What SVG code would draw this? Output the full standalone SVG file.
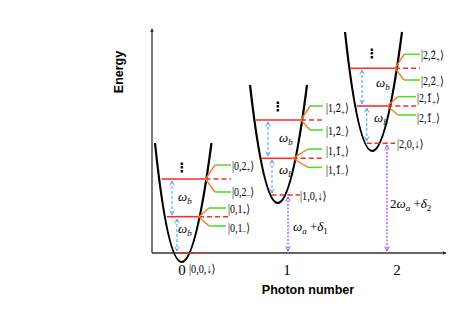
<svg xmlns="http://www.w3.org/2000/svg" width="458" height="324" viewBox="0 0 458 324">
<defs>
<style>
.well{fill:none;stroke:#000;stroke-width:2.2}
.lvl{stroke:#ff2a2a;stroke-width:1.6;fill:none}
.dash{stroke:#ff2a2a;stroke-width:1.6;stroke-dasharray:5,3;fill:none}
.split{stroke:#f47a2a;stroke-width:1.4;fill:none}
.grn{stroke:#55dd33;stroke-width:1.6;fill:none}
.blue{stroke:#4da6ff;stroke-width:1.1;stroke-dasharray:3,2;fill:none;marker-start:url(#ab);marker-end:url(#ab)}
.purp{stroke:#8a4dff;stroke-width:1.2;stroke-dasharray:2,1.5;fill:none;marker-start:url(#ap);marker-end:url(#ap)}
.axis{stroke:#333;stroke-width:1.3;fill:none}
.ket{font-family:"Liberation Serif","DejaVu Serif",serif;font-size:12.5px;fill:#000}
.td{font-family:"DejaVu Serif",serif;font-size:11px}
.om{font-family:"Liberation Serif","DejaVu Serif",serif;font-size:13px;font-style:italic;fill:#000}
.num{font-family:"Liberation Serif",serif;font-size:15px;fill:#000}
.lab{font-family:"Liberation Sans",Arial,sans-serif;font-size:12.5px;font-weight:bold;fill:#000}
.dots{font-family:"DejaVu Sans",sans-serif;font-size:13px;font-weight:bold;fill:#000}
</style>
<marker id="ab" viewBox="0 0 8 8" refX="7" refY="4" markerWidth="6" markerHeight="6" markerUnits="userSpaceOnUse" orient="auto-start-reverse"><path d="M1,1 L7,4 L1,7" fill="none" stroke="#4da6ff" stroke-width="1.3"/></marker>
<marker id="ap" viewBox="0 0 8 8" refX="7" refY="4" markerWidth="6" markerHeight="6" markerUnits="userSpaceOnUse" orient="auto-start-reverse"><path d="M1,1 L7,4 L1,7" fill="none" stroke="#8a4dff" stroke-width="1.3"/></marker>
<marker id="ax" viewBox="0 0 6 6" refX="5" refY="3" markerWidth="4" markerHeight="4" markerUnits="userSpaceOnUse" orient="auto"><path d="M0,0 L6,3 L0,6 Z" fill="#333"/></marker>
</defs>
<rect width="458" height="324" fill="#fff"/>

<g id="axes">
<line class="axis" x1="152" y1="253" x2="152" y2="29" marker-end="url(#ax)"/>
<line class="axis" x1="152" y1="253" x2="446" y2="253" marker-end="url(#ax)"/>
<text class="lab" transform="translate(123,72) rotate(-90)" text-anchor="middle">Energy</text>
<text class="lab" x="308" y="294" text-anchor="middle" font-size="13">Photon number</text>
<text class="num" x="182" y="275" text-anchor="middle">0</text>
<text class="num" x="287" y="275" text-anchor="middle">1</text>
<text class="num" x="397" y="275" text-anchor="middle">2</text>
</g>

<g id="well0">
<path class="well" d="M155,143 Q180,381 211.5,143"/>
<line class="lvl" x1="161.5" y1="179" x2="205.5" y2="179"/>
<line class="dash" x1="205.5" y1="179" x2="231" y2="179"/>
<polyline class="split" points="215,165 205.5,179 215,192"/>
<line class="grn" x1="215" y1="165" x2="231" y2="165"/>
<line class="grn" x1="215" y1="192" x2="231" y2="192"/>
<line class="lvl" x1="167" y1="216.7" x2="199" y2="216.7"/>
<line class="dash" x1="199" y1="216.7" x2="229" y2="216.7"/>
<polyline class="split" points="209,208 199,216.7 209,226"/>
<line class="grn" x1="209" y1="208" x2="226" y2="208"/>
<line class="grn" x1="209" y1="226" x2="226" y2="226"/>
<line class="dash" x1="178" y1="253" x2="203" y2="253"/>
<text class="dots" x="182" y="172" text-anchor="middle">⋮</text>
<text class="om" x="178" y="201">ω<tspan font-size="9" dy="3">b</tspan></text>
<text class="om" x="178" y="233">ω<tspan font-size="9" dy="3">b</tspan></text>
<text class="ket" transform="translate(232,169.5) scale(0.8,1)">|0,2<tspan font-size="8.5" dy="2.5">+</tspan><tspan dy="-2.5">⟩</tspan></text>
<text class="ket" transform="translate(232,195.5) scale(0.8,1)">|0,2<tspan font-size="8.5" dy="2.5">−</tspan><tspan dy="-2.5">⟩</tspan></text>
<text class="ket" transform="translate(228,212.5) scale(0.8,1)">|0,1<tspan font-size="8.5" dy="2.5">+</tspan><tspan dy="-2.5">⟩</tspan></text>
<text class="ket" transform="translate(228,231.5) scale(0.8,1)">|0,1<tspan font-size="8.5" dy="2.5">−</tspan><tspan dy="-2.5">⟩</tspan></text>
<text class="ket" transform="translate(189,273) scale(0.82,1)">|0,0,↓⟩</text>
</g>

<g id="well1">
<path class="well" d="M250,85 Q277,321 307,85"/>
<line class="lvl" x1="256" y1="120" x2="301" y2="120"/>
<line class="dash" x1="301" y1="120" x2="323" y2="120"/>
<polyline class="split" points="310,106 301,120 310,130"/>
<line class="grn" x1="310" y1="106" x2="323" y2="106"/>
<line class="grn" x1="310" y1="130" x2="323" y2="130"/>
<line class="lvl" x1="261.5" y1="158.3" x2="292.7" y2="158.3"/>
<line class="dash" x1="292.7" y1="158.3" x2="323" y2="158.3"/>
<polyline class="split" points="308,149 292.7,158.3 308,167.3"/>
<line class="grn" x1="308" y1="149" x2="322" y2="149"/>
<line class="grn" x1="308" y1="167.3" x2="322" y2="167.3"/>
<line class="dash" x1="271.5" y1="195" x2="300" y2="195"/>
<text class="dots" x="278" y="111" text-anchor="middle">⋮</text>
<text class="om" x="279" y="142">ω<tspan font-size="9" dy="3">b</tspan></text>
<text class="om" x="279" y="174">ω<tspan font-size="9" dy="3">b</tspan></text>
<text class="ket" transform="translate(326,112) scale(0.8,1)">|1,<tspan class="td">2̃</tspan><tspan font-size="8.5" dy="2.5">+</tspan><tspan dy="-2.5">⟩</tspan></text>
<text class="ket" transform="translate(326,135) scale(0.8,1)">|1,<tspan class="td">2̃</tspan><tspan font-size="8.5" dy="2.5">−</tspan><tspan dy="-2.5">⟩</tspan></text>
<text class="ket" transform="translate(326,155) scale(0.8,1)">|1,<tspan class="td">1̃</tspan><tspan font-size="8.5" dy="2.5">+</tspan><tspan dy="-2.5">⟩</tspan></text>
<text class="ket" transform="translate(326,173.5) scale(0.8,1)">|1,<tspan class="td">1̃</tspan><tspan font-size="8.5" dy="2.5">−</tspan><tspan dy="-2.5">⟩</tspan></text>
<text class="ket" transform="translate(300,199.5) scale(0.82,1)">|1,0,↓⟩</text>
<text class="om" x="293" y="231">ω<tspan font-size="9" dy="3">a</tspan><tspan font-style="normal" dy="-3"> +</tspan>δ<tspan font-size="9" font-style="normal" dy="3">1</tspan></text>
</g>

<g id="well2">
<path class="well" d="M345,32 Q371,270 402,32"/>
<line class="lvl" x1="350.7" y1="68.3" x2="395" y2="68.3"/>
<line class="dash" x1="395" y1="68.3" x2="420" y2="68.3"/>
<polyline class="split" points="404,54.3 395,68.3 404,80"/>
<line class="grn" x1="404" y1="54.3" x2="420" y2="54.3"/>
<line class="grn" x1="404" y1="80" x2="420" y2="80"/>
<line class="lvl" x1="356.7" y1="106" x2="387.3" y2="106"/>
<line class="dash" x1="387.3" y1="106" x2="418" y2="106"/>
<polyline class="split" points="398,96.7 387.3,106 398,115"/>
<line class="grn" x1="398" y1="96.7" x2="416" y2="96.7"/>
<line class="grn" x1="398" y1="115" x2="416" y2="115"/>
<line class="dash" x1="366.7" y1="143.3" x2="395" y2="143.3"/>
<text class="dots" x="372" y="58" text-anchor="middle">⋮</text>
<text class="om" x="376" y="87">ω<tspan font-size="9" dy="3">b</tspan></text>
<text class="om" x="374" y="122">ω<tspan font-size="9" dy="3">b</tspan></text>
<text class="ket" transform="translate(421,59) scale(0.8,1)">|2,<tspan class="td">2̃</tspan><tspan font-size="8.5" dy="2.5">+</tspan><tspan dy="-2.5">⟩</tspan></text>
<text class="ket" transform="translate(421,85) scale(0.8,1)">|2,<tspan class="td">2̃</tspan><tspan font-size="8.5" dy="2.5">−</tspan><tspan dy="-2.5">⟩</tspan></text>
<text class="ket" transform="translate(417,102) scale(0.8,1)">|2,<tspan class="td">1̃</tspan><tspan font-size="8.5" dy="2.5">+</tspan><tspan dy="-2.5">⟩</tspan></text>
<text class="ket" transform="translate(417,122) scale(0.8,1)">|2,<tspan class="td">1̃</tspan><tspan font-size="8.5" dy="2.5">−</tspan><tspan dy="-2.5">⟩</tspan></text>
<text class="ket" transform="translate(397,147.5) scale(0.82,1)">|2,0,↓⟩</text>
<text class="om" x="390" y="208"><tspan font-style="normal">2</tspan>ω<tspan font-size="9" dy="3">a</tspan><tspan font-style="normal" dy="-3"> +</tspan>δ<tspan font-size="9" font-style="normal" dy="3">2</tspan></text>
</g>

<g id="connectors">
<line class="blue" x1="172" y1="181" x2="172" y2="215"/>
<line class="blue" x1="177" y1="219" x2="177" y2="251"/>
<line class="blue" x1="268" y1="122" x2="268" y2="156"/>
<line class="blue" x1="272" y1="160" x2="272" y2="193"/>
<line class="blue" x1="362" y1="70" x2="362" y2="104"/>
<line class="blue" x1="366.7" y1="108" x2="366.7" y2="141"/>
<line class="purp" x1="288" y1="197" x2="288" y2="251"/>
<line class="purp" x1="387" y1="145" x2="387" y2="251"/>
</g>
</svg>
